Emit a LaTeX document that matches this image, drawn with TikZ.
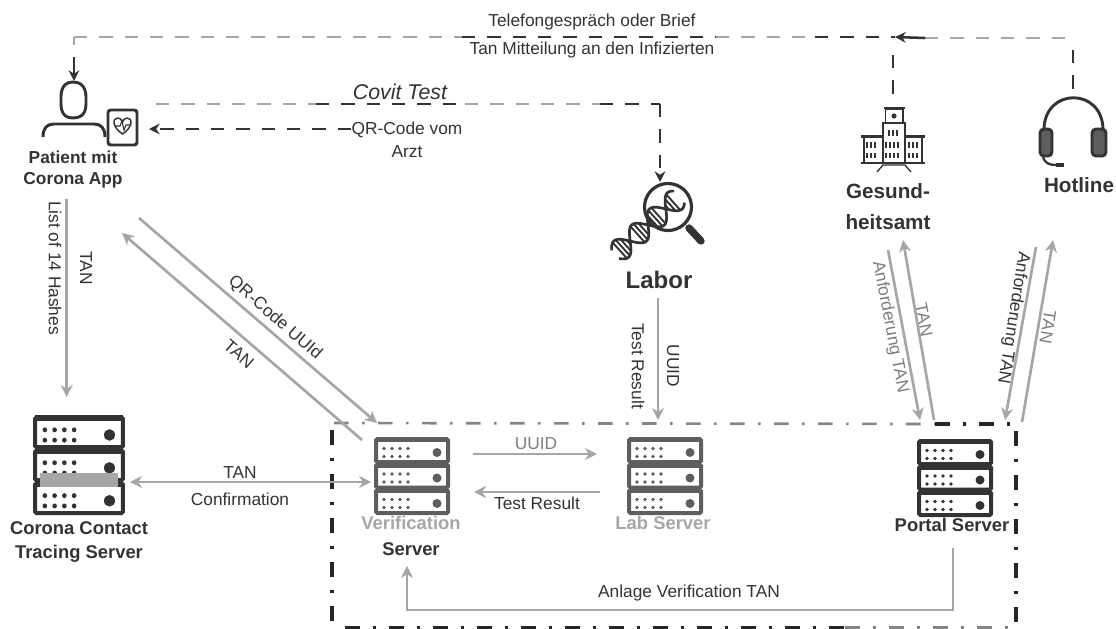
\documentclass[tikz,border=0pt]{standalone}
\usepackage{fontspec}
\setmainfont{Liberation Sans}
\usetikzlibrary{arrows.meta}
\definecolor{inkdark}{HTML}{333333}
\definecolor{inkmid}{HTML}{5E5E5E}
\definecolor{inkgray}{HTML}{A6A6A6}
\tikzset{
  labeltext/.style={font=\fontsize{13}{15}\selectfont,text=inkdark,inner sep=0.75pt},
  graytext/.style={font=\fontsize{13}{15}\selectfont,text=inkmid!80,inner sep=0.75pt},
  titletext/.style={font=\bfseries\fontsize{13.8}{16}\selectfont,text=inkdark,inner sep=0.75pt},
  flowgray/.style={draw=inkgray,line width=2pt},
  tipgray/.style={flowgray,-{Stealth[length=9pt,width=9pt]}},
  tipboth/.style={flowgray,{Stealth[length=9pt,width=9pt]}-{Stealth[length=9pt,width=9pt]}},
  dashgray/.style={draw=inkgray,line width=1.4pt,dash pattern=on 10pt off 9pt},
  dashdark/.style={draw=inkdark,line width=1.9pt,dash pattern=on 10pt off 9pt},
  tipdark/.style={draw=inkdark,line width=1.9pt,-{Stealth[length=8pt,width=8pt]}},
  zonegray/.style={draw=inkgray!80!black,line width=2pt,dash pattern=on 11pt off 10pt on 2pt off 10pt},
  zonedark/.style={draw=black!85,line width=2.4pt,dash pattern=on 11pt off 10pt on 2pt off 10pt},
  rackbox/.style={minimum width=57pt,minimum height=56pt,inner sep=0pt},
  icondraw/.style={draw=inkdark,line width=2.2pt},
  pics/serverrack/.style={code={
    \foreach \rowy in {-38,-12.5,13} {
      \draw [draw=#1,line width=3pt,fill=white,rounded corners=1pt] (-36,\rowy) rectangle (36,\rowy+23);
      \fill [#1] (-36,\rowy+20) rectangle (36,\rowy+25);
      \fill [#1] (25,\rowy+9.5) circle (4.5);
      \foreach \dotx in {-28,-20,-12,-4} {
        \fill [#1] (\dotx,\rowy+5.5) circle (1.9);
        \fill [#1] (\dotx,\rowy+13.5) circle (1.9);
      }
    }
  }},
}

\begin{document}
\begin{tikzpicture}[x=0.75pt,y=0.75pt,yscale=-1,xscale=1]
\useasboundingbox (0,0) rectangle (1116,628);

% Zone corners
\coordinate (zoneA) at (334,423);
\coordinate (zoneB) at (935,424);
\coordinate (zoneC) at (1010,424);
\coordinate (zoneD) at (1016,431);
\coordinate (zoneE) at (1016,628);
\coordinate (zoneF) at (332,430);
\coordinate (zoneG) at (332,628);
\coordinate (zoneH) at (345,628);
\coordinate (zoneI) at (845,628);
\coordinate (zoneJ) at (1010,628);
%Straight Lines
\draw [zonegray] (zoneA) -- (zoneB) ;
\draw [zonedark] (zoneB) -- (zoneC) ;
\draw [zonedark] (zoneD) -- (zoneE) ;
\draw [zonedark] (zoneF) -- (zoneG) ;
\draw [zonedark,line width=3pt] (zoneH) -- (zoneI) ;
\draw [zonegray,line width=3pt] (zoneI) -- (zoneJ) ;

% Servers
\path (79,464) node [rackbox] (coronaRack) {} pic [xscale=1.22,yscale=1.29] {serverrack=inkdark};
\path (412,475) node [rackbox] (verifRack) {} pic {serverrack=inkmid};
\path (665,475) node [rackbox] (labRack) {} pic {serverrack=inkmid};
\path (955,477) node [rackbox] (portalRack) {} pic {serverrack=inkdark};
\fill [inkgray] (40,473) rectangle (118,487);

%Shape: Patient
\draw [icondraw] (73,82) .. controls (60,82) and (61,96) .. (61,100) .. controls (61,106) and (60,118) .. (73,118) .. controls (87,118) and (86,106) .. (86,100) .. controls (86,96) and (87,82) .. (73,82) -- cycle ;
\draw [icondraw] (43,137) .. controls (43,128) and (47,124) .. (54,124) -- (94,124) .. controls (101,124) and (105,128) .. (105,137) ;
\draw [icondraw,rounded corners=2pt] (108,110) rectangle (137,145) ;
\draw [icondraw,line width=1.1pt] (122.5,134) .. controls (112,127) and (112,118) .. (118,118) .. controls (120,118) and (122,120) .. (122.5,122) .. controls (123,120) and (125,118) .. (127,118) .. controls (133,118) and (133,127) .. (122.5,134) -- cycle ;
\draw [icondraw,line width=0.8pt] (115,126) -- (120,126) -- (122,121) -- (124,130) -- (126,125) -- (130,125) ;

%Shape: Labor magnifier
\begin{scope}[shift={(648,225)},rotate=-42]
\draw [inkdark,line width=2pt,domain=-44:42,samples=50] plot ({\x},{11*sin(7.5*\x)}) ;
\draw [inkdark,line width=2pt,domain=-44:42,samples=50] plot ({\x},{-11*sin(7.5*\x)}) ;
\foreach \rungx in {-38,-34,-30,-26,-14,-10,-6,6,10,14,26,30,34} {
  \draw [inkdark,line width=1.4pt] (\rungx,{11*sin(7.5*\rungx)}) -- (\rungx,{-11*sin(7.5*\rungx)}) ;
}
\end{scope}
\draw [icondraw,line width=2.4pt] (668,207) circle (23.5) ;
\draw [inkdark,line width=5.5pt,line cap=round] (689,228) -- (701,241) ;

%Shape: Gesundheitsamt
\draw [icondraw,line width=1.3pt] (885.5,109) rectangle (903,123) ;
\draw [icondraw,line width=2pt] (884,108) -- (905,108) ;
\fill [inkdark] (894,116) circle (2.6) ;
\draw [icondraw,line width=1.3pt] (883,163) -- (883,123) -- (905,123) -- (905,163) ;
\draw [icondraw,line width=1.3pt] (864,163) -- (864,137) ;
\draw [icondraw,line width=1.3pt] (922,163) -- (922,137) ;
\draw [icondraw,line width=2pt] (861,136.5) -- (883,136.5) ;
\draw [icondraw,line width=2pt] (905,136.5) -- (925,136.5) ;
\draw [icondraw,line width=2pt] (861,163) -- (925,163) ;
\foreach \winx in {867,871,875,886,890,894,898,909,913,917} {
  \draw [inkdark,line width=1pt] (\winx,142) -- (\winx,148) ;
  \draw [inkdark,line width=1pt] (\winx,153) -- (\winx,158) ;
}
\foreach \winx in {889,893,897} {
  \draw [inkdark,line width=1pt] (\winx,130) -- (\winx,136) ;
}
\draw [inkdark,line width=1pt] (877,172) -- (883,165) -- (905,165) -- (911,172) ;

%Shape: Hotline headset
\draw [icondraw] (1044,130) .. controls (1044,87) and (1103,87) .. (1103,130) ;
\draw [icondraw,fill=inkmid,rounded corners=3pt] (1040,129) rectangle (1052,156) ;
\draw [icondraw,fill=inkmid,rounded corners=3pt] (1092,129) rectangle (1106,156) ;
\draw [icondraw,line width=1.7pt] (1043,156) .. controls (1044,163) and (1049,165) .. (1056,165) ;
\draw [inkdark,line width=3.5pt] (1056,165) -- (1064,165) ;

% Text Node
\draw (592,22) node [labeltext] (telefonText) {Telefongespräch oder Brief};
\draw (592,50) node [labeltext] (mitteilungText) {Tan Mitteilung an den Infizierten};
\draw (400,92) node [labeltext,font=\itshape\fontsize{16}{18}\selectfont] (covitText) {Covit Test};
\draw (407,130) node [labeltext] (qrText) {QR-Code vom};
\draw (407,152) node [labeltext] (arztText) {Arzt};
\draw (73,157) node [titletext,font=\bfseries\fontsize{13}{16}\selectfont] (patientA) {Patient mit};
\draw (73,180) node [titletext,font=\bfseries\fontsize{13}{16}\selectfont] (patientB) {Corona App};
\draw (888,191) node [titletext,font=\bfseries\fontsize{15.5}{18}\selectfont] (gesundA) {Gesund-};
\draw (888,222) node [titletext,font=\bfseries\fontsize{15.5}{18}\selectfont] (gesundB) {heitsamt};
\draw (1079,185) node [titletext,font=\bfseries\fontsize{15.5}{18}\selectfont] (hotlineText) {Hotline};
\draw (659,280) node [titletext,font=\bfseries\fontsize{18}{20}\selectfont] (laborText) {Labor};
\draw (79,528) node [titletext] (coronaA) {Corona Contact};
\draw (79,554) node [titletext] (coronaB) {Tracing Server};
\draw (411,523) node [titletext,text=inkgray] (verifA) {Verification};
\draw (411,549) node [titletext] (verifB) {Server};
\draw (663,523) node [titletext,text=inkgray] (labText) {Lab Server};
\draw (952,525) node [titletext] (portalText) {Portal Server};
\draw (55,268) node [labeltext,rotate=-90] (listText) {List of 14 Hashes};
\draw (86,268) node [labeltext,rotate=-90] (tanListText) {TAN};
\draw (275,318) node [labeltext,rotate=-41] (qrUuidText) {QR-Code UUId};
\draw (239,354) node [labeltext,rotate=-41] (tanDiagText) {TAN};
\draw (638,366) node [labeltext,rotate=-90] (resultText) {Test Result};
\draw (673,366) node [labeltext,rotate=-90] (uuidText) {UUID};
\draw (890,327) node [graytext,rotate=-79] (anfGesText) {Anforderung TAN};
\draw (924,320) node [graytext,rotate=-79] (tanGesText) {TAN};
\draw (1013,318) node [labeltext,rotate=-99] (anfHotText) {Anforderung TAN};
\draw (1048,327) node [graytext,rotate=-99] (tanHotText) {TAN};
\draw (240,473) node [labeltext] (tanMidText) {TAN};
\draw (240,499) node [labeltext] (confirmText) {Confirmation};
\draw (536,444) node [graytext] (uuidMidText) {UUID};
\draw (537,503) node [labeltext] (resultMidText) {Test Result};
\draw (689,593) node [labeltext] (anlageText) {Anlage Verification TAN};

% Free connector ends
\coordinate (topLeft) at (74,37);
\coordinate (topA) at (462,37);
\coordinate (topB) at (716,37);
\coordinate (topC) at (815,37);
\coordinate (topD) at (895,37);
\coordinate (topE) at (925,38);
\coordinate (topRight) at (1074,38);
\coordinate (patientDrop) at (74,45);
\coordinate (patientFrom) at (74,57);
\coordinate (patientTip) at (74,81);
\coordinate (gesundTop) at (893,55);
\coordinate (gesundLow) at (893,97);
\coordinate (hotTop) at (1073,50);
\coordinate (hotLow) at (1073,93);
\coordinate (covitA) at (156,104);
\coordinate (covitB) at (316,104);
\coordinate (covitC) at (465,104);
\coordinate (covitD) at (600,104);
\coordinate (covitE) at (660,104);
\coordinate (laborTip) at (660,182);
\coordinate (qrFrom) at (351,129);
\coordinate (qrTip) at (149,129);
\coordinate (listFrom) at (66.7,199);
\coordinate (listTip) at (66.7,397);
\coordinate (uuidFrom) at (139,218);
\coordinate (uuidTip) at (377,423);
\coordinate (tanFrom) at (362,440);
\coordinate (tanTip) at (122,233);
\coordinate (labFrom) at (658,298);
\coordinate (labTip) at (658,420);
\coordinate (anfGesFrom) at (888,250);
\coordinate (anfGesTip) at (920,420);
\coordinate (tanGesFrom) at (934,420);
\coordinate (tanGesTip) at (903,240);
\coordinate (anfHotFrom) at (1036,247);
\coordinate (anfHotTip) at (1005,420);
\coordinate (tanHotFrom) at (1022,422);
\coordinate (tanHotTip) at (1053,240);
\coordinate (coronaSide) at (130,482);
\coordinate (verifSide) at (371,482);
\coordinate (uuidLeft) at (473,454);
\coordinate (uuidRight) at (597,454);
\coordinate (resultRight) at (600,492);
\coordinate (resultLeft) at (474,492);
\coordinate (anlageFrom) at (953,548);
\coordinate (anlageB) at (953,610);
\coordinate (anlageC) at (407,610);
\coordinate (anlageTip) at (407,566);

%Straight Lines
\draw [dashgray] (topLeft) -- (topA) ;
\draw [dashdark] (topA) -- (topB) ;
\draw [dashgray] (topB) -- (topC) ;
\draw [dashdark] (topC) -- (topD) ;
\draw [dashgray] (topE) -- (topRight) ;
\draw [tipdark] (topE) -- (topD) ;
\draw [dashgray] (topLeft) -- (patientDrop) ;
\draw [tipdark] (patientFrom) -- (patientTip) ;
\draw [dashdark] (gesundTop) -- (gesundLow) ;
\draw [dashdark] (hotTop) -- (hotLow) ;
\draw [dashgray] (covitA) -- (covitB) ;
\draw [dashdark] (covitB) -- (covitC) ;
\draw [dashgray] (covitC) -- (covitD) ;
\draw [dashdark] (covitD) -- (covitE) ;
\draw [tipdark,dash pattern=on 10pt off 9pt] (covitE) -- (laborTip) ;
\draw [tipdark,dash pattern=on 10pt off 9pt] (qrFrom) -- (qrTip) ;
\draw [tipgray] (listFrom) -- (listTip) ;
\draw [tipgray] (uuidFrom) -- (uuidTip) ;
\draw [tipgray] (tanFrom) -- (tanTip) ;
\draw [tipgray] (labFrom) -- (labTip) ;
\draw [tipgray] (anfGesFrom) -- (anfGesTip) ;
\draw [tipgray] (tanGesFrom) -- (tanGesTip) ;
\draw [tipgray] (anfHotFrom) -- (anfHotTip) ;
\draw [tipgray] (tanHotFrom) -- (tanHotTip) ;
\draw [tipboth] (coronaSide) -- (verifSide) ;
\draw [tipgray] (uuidLeft) -- (uuidRight) ;
\draw [tipgray] (resultRight) -- (resultLeft) ;
\draw [tipgray] (anlageFrom) -- (anlageB) -- (anlageC) -- (anlageTip) ;
\end{tikzpicture}
\end{document}
